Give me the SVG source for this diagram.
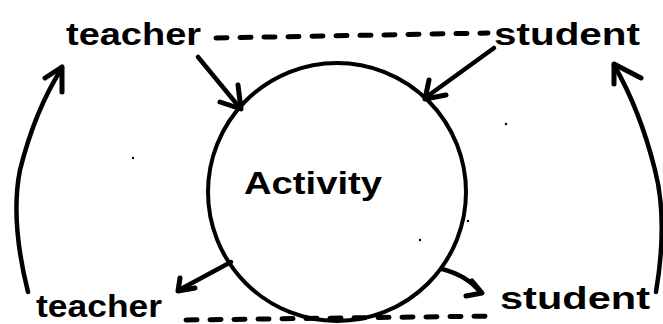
<svg xmlns="http://www.w3.org/2000/svg" width="663" height="324" viewBox="0 0 663 324">
<style>
.lbl{font-family:"Liberation Sans",Arial,sans-serif;font-weight:bold;font-size:32px;fill:#000}
.ln{fill:none;stroke:#000;stroke-width:4.5;stroke-linecap:round;stroke-linejoin:round}
.dash{fill:none;stroke:#000;stroke-width:5;stroke-dasharray:11 13;stroke-linecap:round}
.head{fill:none;stroke:#000;stroke-width:5;stroke-linecap:round;stroke-linejoin:round}
</style>
<rect width="663" height="324" fill="#fff"/>
<g id="activity">
<circle cx="337" cy="192" r="129" fill="none" stroke="#000" stroke-width="4"/>
<text class="lbl" x="244" y="194" font-size="30" textLength="138" lengthAdjust="spacingAndGlyphs">Activity</text>
</g>
<g id="teacher-top"><text class="lbl" x="66" y="45" textLength="135" lengthAdjust="spacingAndGlyphs">teacher</text></g>
<g id="student-top"><text class="lbl" x="494" y="45" textLength="146" lengthAdjust="spacingAndGlyphs">student</text></g>
<g id="teacher-bottom"><text class="lbl" x="36" y="317" textLength="126" lengthAdjust="spacingAndGlyphs">teacher</text></g>
<g id="student-bottom"><text class="lbl" x="500" y="309" textLength="150" lengthAdjust="spacingAndGlyphs">student</text></g>
<g id="connectors">
<path class="dash" d="M216 38 L488 33"/>
<path class="dash" d="M186 320 L495 316"/>
<path class="ln" d="M198 57 L240 108"/>
<path class="head" d="M220 102 L241 109 L238 85"/>
<path class="ln" d="M494 48 L425 98"/>
<path class="head" d="M429 80 L425 99 L446 95"/>
<path class="ln" d="M231 262 L179 290"/>
<path class="head" d="M180 278 L178 291 L195 288"/>
<path class="ln" d="M442 269 Q468 276 480 292"/>
<path class="head" d="M472 281 L482 293 L466 296"/>
<path class="ln" d="M28 292 Q10 220 20 170 Q35 110 62 68"/>
<path class="head" d="M45 78 L62 67 L62 92"/>
<path class="ln" d="M656 292 Q668 220 655 170 Q640 110 614 65"/>
<path class="head" d="M614 84 L614 64 L641 78"/>
</g>
<g fill="#000">
<circle cx="133" cy="158" r="1.2"/>
<circle cx="506" cy="124" r="1.2"/>
<circle cx="468" cy="221" r="1.2"/>
<circle cx="420" cy="240" r="1.2"/>
</g>
</svg>
